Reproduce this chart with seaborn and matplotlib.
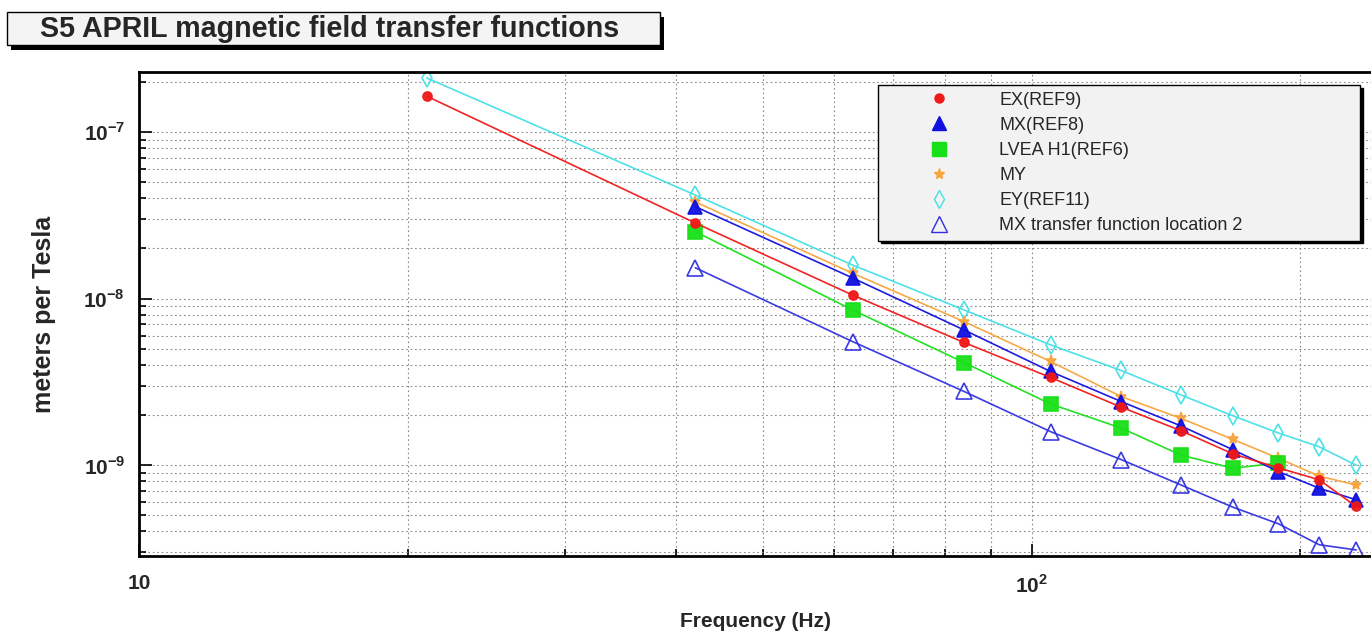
import numpy as np
import pandas as pd
import seaborn as sns
import matplotlib.pyplot as plt
from matplotlib.lines import Line2D
from matplotlib.patches import Rectangle
from matplotlib.ticker import FixedLocator, FuncFormatter, LogLocator, NullFormatter

# data (harmonics of 21 Hz)
freq_ex = [21, 42, 63, 84, 105, 126, 147, 168, 189, 210, 231]
ex_ref9 = [1.64e-7, 2.84e-8, 1.05e-8, 5.45e-9, 3.36e-9, 2.23e-9, 1.61e-9, 1.17e-9, 9.63e-10, 8.17e-10, 5.65e-10]

freq_mx = [42, 63, 84, 105, 126, 147, 168, 189, 210, 231]
mx_ref8 = [3.56e-8, 1.33e-8, 6.48e-9, 3.65e-9, 2.41e-9, 1.72e-9, 1.24e-9, 9.16e-10, 7.27e-10, 6.2e-10]

freq_lvea = [42, 63, 84, 105, 126, 147, 168, 189]
lvea_ref6 = [2.52e-8, 8.55e-9, 4.13e-9, 2.33e-9, 1.67e-9, 1.15e-9, 9.59e-10, 1.03e-9]

freq_my = [42, 63, 84, 105, 126, 147, 168, 189, 210, 231]
my = [3.8e-8, 1.42e-8, 7.27e-9, 4.19e-9, 2.58e-9, 1.91e-9, 1.43e-9, 1.10e-9, 8.6e-10, 7.6e-10]

freq_ey = [21, 42, 63, 84, 105, 126, 147, 168, 189, 210, 231]
ey_ref11 = [2.11e-7, 4.18e-8, 1.59e-8, 8.55e-9, 5.27e-9, 3.70e-9, 2.64e-9, 1.98e-9, 1.56e-9, 1.29e-9, 1.0e-9]

freq_loc2 = [42, 63, 84, 105, 126, 147, 168, 189, 210, 231]
mx_loc2 = [1.53e-8, 5.52e-9, 2.77e-9, 1.59e-9, 1.08e-9, 7.61e-10, 5.60e-10, 4.45e-10, 3.33e-10, 3.1e-10]

labels = ['EX(REF9)', 'MX(REF8)', 'LVEA H1(REF6)', 'MY', 'EY(REF11)', 'MX transfer function location 2']

sns.set_style('ticks')
plt.rcParams['font.family'] = ['Liberation Sans', 'DejaVu Sans']
plt.rcParams['mathtext.fontset'] = 'custom'
plt.rcParams['mathtext.rm'] = 'Liberation Sans:bold'
plt.rcParams['mathtext.bf'] = 'Liberation Sans:bold'

fig = plt.figure(figsize=(13.71, 6.34), dpi=100)
ax = fig.add_axes([0.1014, 0.123, 0.8986, 0.763])

# style: (freq, values, colour, marker, size, filled)
series = [
    (freq_ey, ey_ref11, '#44e0e6', 'd', 9, False),
    (freq_my, my, '#f7a53c', '*', 8, True),
    (freq_lvea, lvea_ref6, '#18e018', 's', 10, True),
    (freq_mx, mx_ref8, '#1010e0', '^', 10, True),
    (freq_ex, ex_ref9, '#f01818', 'o', 6.5, True),
    (freq_loc2, mx_loc2, '#3030e0', '^', 11, False),
]
for f, v, c, m, s, filled in series:
    sns.lineplot(x=f, y=v, ax=ax, color=c, lw=1.2, marker=m, markersize=s,
                 markeredgecolor=c, markerfacecolor=c if filled else 'none',
                 markeredgewidth=1.2, alpha=0.95)

ax.set_xscale('log')
ax.set_yscale('log')
ax.set_xlim(10, 240)
ax.set_ylim(2.85e-10, 2.28e-7)

ax.xaxis.set_major_locator(FixedLocator([10, 100]))
ax.xaxis.set_major_formatter(FuncFormatter(lambda v, p: '10' if v < 50 else r'$10^2$'))
ax.xaxis.set_minor_locator(LogLocator(base=10, subs=np.arange(2, 10)))
ax.xaxis.set_minor_formatter(NullFormatter())
ax.yaxis.set_major_formatter(FuncFormatter(lambda v, p: r'$10^{%d}$' % round(np.log10(v))))
ax.yaxis.set_minor_locator(LogLocator(base=10, subs=np.arange(2, 10)))
ax.yaxis.set_minor_formatter(NullFormatter())
ax.xaxis.get_offset_text().set_visible(False)
ax.yaxis.get_offset_text().set_visible(False)

ax.tick_params(which='both', direction='in', labelsize=15, width=1.2, color='black')
ax.tick_params(which='major', length=9)
ax.tick_params(which='minor', length=5)
ax.tick_params(axis='x', which='major', pad=13)
ax.tick_params(axis='y', which='major', pad=10)
for t in ax.get_xticklabels() + ax.get_yticklabels():
    t.set_fontweight('bold')

ax.grid(which='both', color='#8a8a8a', linestyle=(0, (1.5, 2.5)), linewidth=0.8)
ax.spines['right'].set_visible(False)
for sp in ['left', 'bottom', 'top']:
    ax.spines[sp].set_linewidth(2)
    ax.spines[sp].set_color('black')

ax.set_xlabel('Frequency (Hz)', fontsize=15, fontweight='bold', labelpad=11)
ax.set_ylabel('meters per Tesla', fontsize=18, fontweight='bold', labelpad=20)

handles = []
for (f, v, c, m, s, filled) in [series[4], series[3], series[2], series[1], series[0], series[5]]:
    handles.append(Line2D([], [], ls='none', marker=m, markersize=s, color=c,
                          markeredgecolor=c, markerfacecolor=c if filled else 'none'))
leg = ax.legend(handles, labels, loc='upper left', bbox_to_anchor=(0.6, 0.973, 0.391, 0.0),
                mode='expand', fontsize=13, frameon=True, fancybox=False,
                framealpha=1, edgecolor='black', facecolor='#f2f2f2',
                labelspacing=0.45, handletextpad=0.3, handlelength=6.05,
                borderpad=0.35, borderaxespad=0,
                shadow={'color': 'black', 'alpha': 1})
leg.get_frame().set_linewidth(1.0)

# title box with a shadow
fig.patches.append(Rectangle((11 / 1371, 1 - 50 / 634), 653 / 1371, 33 / 634,
                             transform=fig.transFigure, fc='black', ec='none'))
fig.patches.append(Rectangle((7 / 1371, 1 - 45 / 634), 653 / 1371, 33 / 634,
                             transform=fig.transFigure, fc='#f4f4f4', ec='black', lw=1))
fig.text(330 / 1371, 1 - 29 / 634, 'S5 APRIL magnetic field transfer functions',
         ha='center', va='center', fontsize=20.6, fontweight='bold')

fig.savefig('out.png', dpi=100)
